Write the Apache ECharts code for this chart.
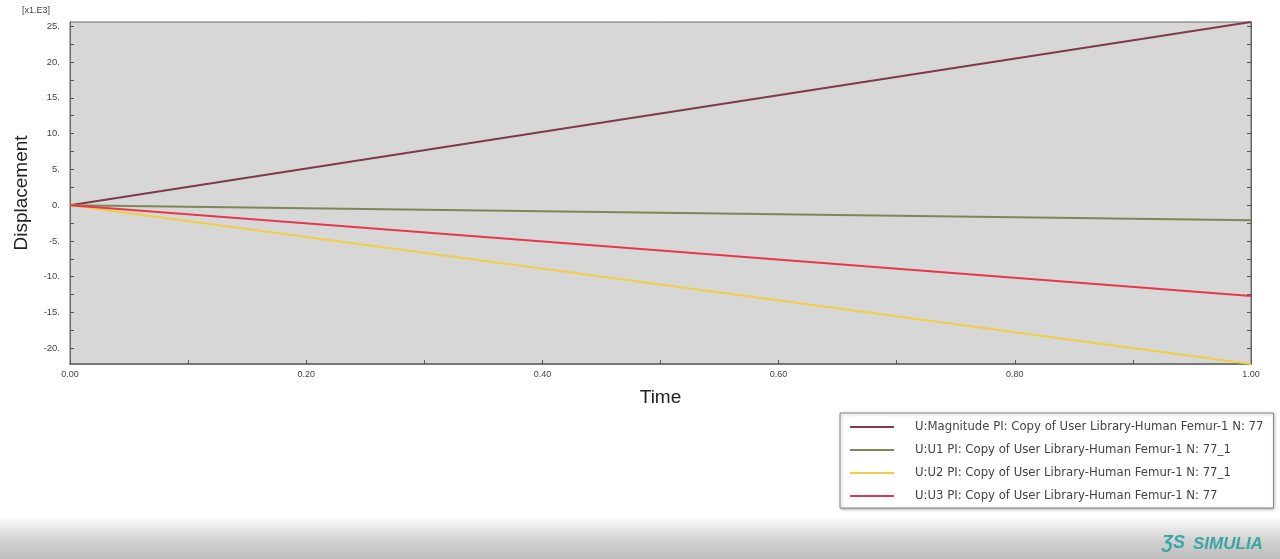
<!DOCTYPE html>
<html><head><meta charset="utf-8">
<script src="https://cdn.jsdelivr.net/npm/echarts@6/dist/echarts.min.js"></script>
<style>html,body{margin:0;padding:0;background:#fff}#c{width:1280px;height:559px}</style>
</head><body><div id="c"></div>
<script>
const timeValues = [0, 0.5, 1.0];
const seriesNames = [
  'U:Magnitude PI: Copy of User Library-Human Femur-1 N: 77',
  'U:U1 PI: Copy of User Library-Human Femur-1 N: 77_1',
  'U:U2 PI: Copy of User Library-Human Femur-1 N: 77_1',
  'U:U3 PI: Copy of User Library-Human Femur-1 N: 77'
];
const magnitude = [0, 12.8, 25.6];
const u1 = [0, -1.05, -2.1];
const u2 = [0, -11.1, -22.2];
const u3 = [0, -6.35, -12.7];
const yTickLabels = [-20, -15, -10, -5, 0, 5, 10, 15, 20, 25];
const yMinorTicks = [-20, -17.5, -15, -12.5, -10, -7.5, -5, -2.5, 0, 2.5, 5, 7.5, 10, 12.5, 15, 17.5, 20, 22.5, 25];
const xTickLabels = [0, 0.2, 0.4, 0.6, 0.8, 1.0];
const xMinorTicks = [0, 0.1, 0.2, 0.3, 0.4, 0.5, 0.6, 0.7, 0.8, 0.9, 1.0];
const colors = ['#7f3b48', '#7f8656', '#f0cf45', '#e5384c'];
const allValues = [magnitude, u1, u2, u3];

const chart = echarts.init(document.getElementById('c'));
const font = 'Liberation Sans, Arial, sans-serif';
chart.setOption({
  animation: false,
  color: colors,
  grid: {left: 70, right: 29, top: 22, bottom: 195, show: true, backgroundColor: '#d7d7d7', borderColor: '#6a6a6a', borderWidth: 1},
  xAxis: {
    type: 'value', min: 0, max: 1, interval: 0.2,
    name: 'Time', nameLocation: 'middle', nameGap: 24,
    nameTextStyle: {fontSize: 19, color: '#222', fontFamily: font},
    axisLine: {show: true, onZero: false, lineStyle: {color: '#777', width: 2}},
    axisTick: {show: true, inside: true, length: 4, customValues: xMinorTicks, lineStyle: {color: '#555'}},
    axisLabel: {customValues: xTickLabels, formatter: v => v.toFixed(2), fontSize: 9, color: '#444', margin: 6, fontFamily: font},
    splitLine: {show: false}
  },
  yAxis: [{
    type: 'value', min: -22.2, max: 25.6,
    name: 'Displacement', nameLocation: 'middle', nameGap: 39,
    nameTextStyle: {fontSize: 19, color: '#222', fontFamily: font},
    axisLine: {show: true, onZero: false, lineStyle: {color: '#666'}},
    axisTick: {show: true, inside: true, length: 4, customValues: yMinorTicks, lineStyle: {color: '#555'}},
    axisLabel: {customValues: yTickLabels, formatter: v => v + '.', fontSize: 9.5, color: '#444', margin: 10, fontFamily: font},
    splitLine: {show: false}
  }, {
    type: 'value', min: -22.2, max: 25.6, position: 'right',
    axisLine: {show: true, onZero: false, lineStyle: {color: '#666'}},
    axisTick: {show: true, inside: true, length: 4, customValues: yMinorTicks, lineStyle: {color: '#555'}},
    axisLabel: {show: false},
    splitLine: {show: false}
  }],
  legend: {
    orient: 'vertical', left: 840, top: 413,
    backgroundColor: '#fff', borderColor: '#888', borderWidth: 1,
    shadowColor: 'rgba(0,0,0,0.3)', shadowBlur: 3, shadowOffsetX: 1, shadowOffsetY: 1,
    padding: [8, 10, 6, 10],
    icon: 'rect', itemWidth: 44, itemHeight: 2, itemGap: 11,
    textStyle: {fontSize: 11.7, color: '#444', fontFamily: 'DejaVu Sans, sans-serif', padding: [0, 0, 0, 16], lineHeight: 12},
    data: seriesNames
  },
  graphic: [
    {type: 'text', left: 22, top: 6, style: {text: '[x1.E3]', fontSize: 9, fill: '#444', fontFamily: font}},
    {type: 'rect', left: 0, top: 516, shape: {width: 1280, height: 43}, z: -1,
     style: {fill: new echarts.graphic.LinearGradient(0, 0, 0, 1, [{offset: 0, color: '#ffffff'}, {offset: 0.6, color: '#cfcfcf'}, {offset: 1, color: '#bdbdbd'}])}},
    {type: 'text', left: 1162, top: 534, style: {text: 'ƷS', fontSize: 18, fontStyle: 'italic', fontWeight: 'bold', fill: '#3aa5a5', fontFamily: font}},
    {type: 'text', left: 1193, top: 536, style: {text: 'SIMULIA', fontSize: 17, fontStyle: 'italic', fontWeight: 'bold', fill: '#3aa5a5', fontFamily: font}}
  ],
  series: seriesNames.map((n, i) => ({
    name: n, type: 'line', showSymbol: false, symbol: 'none',
    lineStyle: {width: 2, color: colors[i]},
    data: timeValues.map((t, j) => [t, allValues[i][j]])
  }))
});
</script></body></html>
